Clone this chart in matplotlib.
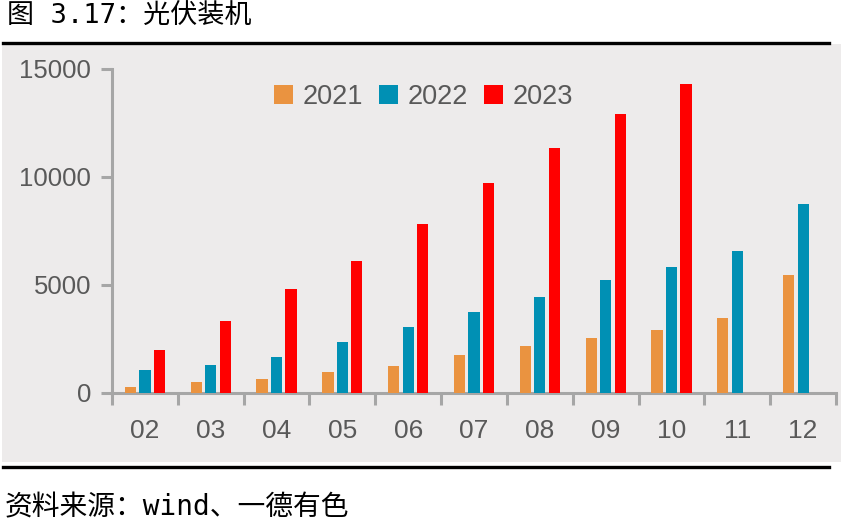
import matplotlib
matplotlib.use("Agg")
import matplotlib.pyplot as plt
import numpy as np
from matplotlib.lines import Line2D
from matplotlib.patches import Rectangle

plt.rcParams["font.family"] = ["Liberation Sans", "Noto Sans CJK SC", "DejaVu Sans"]

months = ["02", "03", "04", "05", "06", "07", "08", "09", "10", "11", "12"]
v2021 = [280, 510, 650, 970, 1250, 1760, 2180, 2550, 2920, 3470, 5460]
v2022 = [1070, 1300, 1670, 2360, 3060, 3750, 4440, 5230, 5830, 6570, 8750]
v2023 = [1990, 3330, 4820, 6110, 7820, 9720, 11340, 12920, 14310]
years = ["2021", "2022", "2023"]
colors = ["#EA9340", "#0090B4", "#FF0000"]

GRAY = "#A6A6A6"
TXT = "#595959"
CJK = ["DejaVu Sans Mono", "Noto Sans CJK SC", "DejaVu Sans"]

fig = plt.figure(figsize=(8.43, 5.23), dpi=100)

# grey panel behind the chart
fig.patches.append(Rectangle((0.0024, 0.1166), 0.9953, 0.7992, transform=fig.transFigure,
                             facecolor="#EDEBEB", edgecolor="none", zorder=-5))
fig.lines.append(Line2D([0.0036, 0.9834], [0.9187, 0.9187], transform=fig.transFigure,
                        color="black", linewidth=2.4, zorder=-4))
fig.lines.append(Line2D([0.0036, 0.9834], [0.1080, 0.1080], transform=fig.transFigure,
                        color="black", linewidth=2.4, zorder=-4))

fig.text(0.008, 0.968, "图 3.17：光伏装机", fontsize=19.5, va="center", ha="left",
         family=CJK, color="black")
fig.text(0.006, 0.030, "资料来源：wind、一德有色", fontsize=20, va="center", ha="left",
         family=CJK, color="black")

ax = fig.add_axes([0.1329, 0.2486, 0.8588, 0.6195])
ax.set_facecolor("none")

x = np.arange(len(months))
w = 0.17
off = 0.22
series = [v2021, v2022, v2023]
for i, (vals, c, lab) in enumerate(zip(series, colors, years)):
    xs = x[:len(vals)] + (i - 1) * off
    ax.bar(xs, vals, width=w, color=c, label=lab, zorder=3)

ax.set_xlim(-0.5, len(months) - 0.5)
ax.set_ylim(0, 15000)
ax.set_yticks([0, 5000, 10000, 15000])

for s in ["top", "right"]:
    ax.spines[s].set_visible(False)
for s in ["left", "bottom"]:
    ax.spines[s].set_color(GRAY)
    ax.spines[s].set_linewidth(2.2)

ax.tick_params(axis="y", direction="out", length=8, width=2.2, color=GRAY,
               labelsize=18.5, labelcolor=TXT, pad=7)
ax.set_xticks(np.arange(-0.5, len(months) + 0.5, 1))
ax.set_xticklabels([])
ax.set_xticks(x, minor=True)
ax.set_xticklabels(months, minor=True)
ax.tick_params(axis="x", which="major", direction="out", length=8.5, width=2.2, color=GRAY)
ax.tick_params(axis="x", which="minor", length=0, labelsize=19, labelcolor=TXT, pad=19)

ax.legend(loc="upper center", bbox_to_anchor=(0.43, 1.03), ncol=3, frameon=False,
          fontsize=19.5, labelcolor=TXT, handlelength=0.7, handleheight=0.7,
          handletextpad=0.35, columnspacing=0.6)

fig.savefig("out.png", dpi=100)
